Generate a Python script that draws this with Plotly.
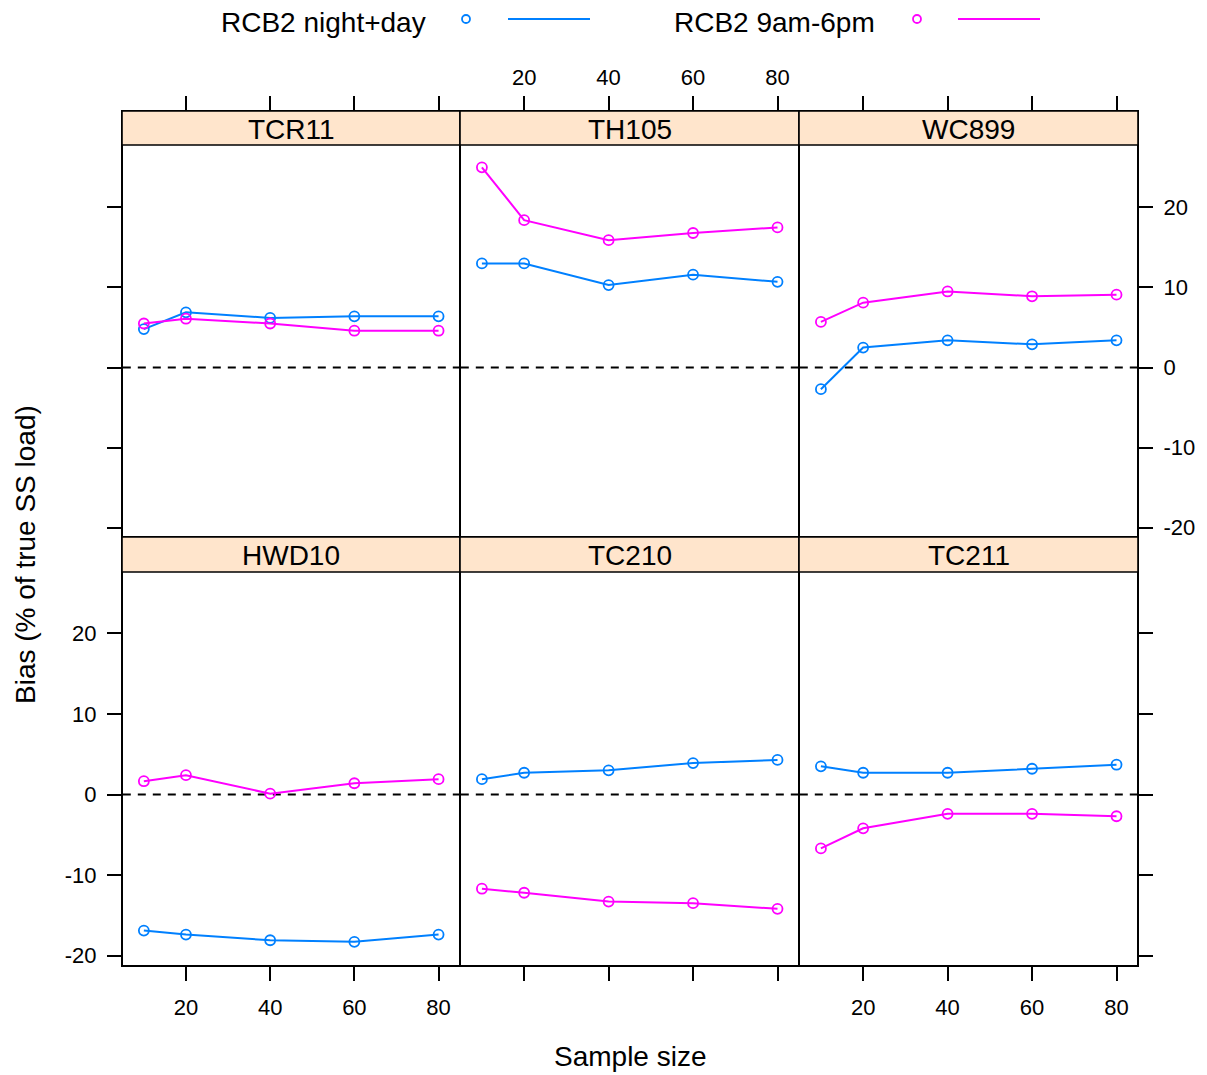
import plotly.graph_objects as go

# ---------------- data ----------------
sample_size = [10, 20, 40, 60, 80]
panel_names = ["TCR11", "TH105", "WC899", "HWD10", "TC210", "TC211"]
series_names = ["RCB2 night+day", "RCB2 9am-6pm"]

night_day_TCR11 = [4.8, 6.9, 6.2, 6.4, 6.4]
night_day_TH105 = [13.0, 13.0, 10.3, 11.6, 10.7]
night_day_WC899 = [-2.7, 2.5, 3.4, 2.9, 3.4]
night_day_HWD10 = [-16.9, -17.4, -18.1, -18.3, -17.4]
night_day_TC210 = [1.9, 2.7, 3.0, 3.9, 4.3]
night_day_TC211 = [3.5, 2.7, 2.7, 3.2, 3.7]

day_TCR11 = [5.5, 6.1, 5.5, 4.6, 4.6]
day_TH105 = [25.0, 18.4, 15.9, 16.8, 17.5]
day_WC899 = [5.7, 8.1, 9.5, 8.9, 9.1]
day_HWD10 = [1.65, 2.4, 0.1, 1.4, 1.9]
day_TC210 = [-11.7, -12.2, -13.3, -13.5, -14.2]
day_TC211 = [-6.7, -4.2, -2.4, -2.4, -2.7]

x_ticks = [20, 40, 60, 80]
y_ticks = [-20, -10, 0, 10, 20]

series_values = {
    "RCB2 night+day": [night_day_TCR11, night_day_TH105, night_day_WC899,
                       night_day_HWD10, night_day_TC210, night_day_TC211],
    "RCB2 9am-6pm": [day_TCR11, day_TH105, day_WC899,
                     day_HWD10, day_TC210, day_TC211],
}
colors = {"RCB2 night+day": "#0080ff", "RCB2 9am-6pm": "#ff00ff"}

# ---------------- geometry (pixels) ----------------
W, H = 1207, 1075
H_EFF = 1071  # compensates a small vertical compression seen in rendering
FONT = "Liberation Sans, Arial, Helvetica, sans-serif"
TICK_FS = 22
MAIN_FS = 28
STRIP_FILL = "#ffe5cc"
LW = 1.6

col_px = [(122, 460), (460, 799), (799, 1138)]
# (strip top, plot top, plot bottom)
row_px = [(111, 145, 537), (537, 572, 966)]
ylims = [(-21.05, 27.7), (-21.2, 27.55)]
xlim = (5.0, 84.9)


def fx(px):
    return px / W


def fy(py):
    return 1 - py / H_EFF


fig = go.Figure()
layout = {}
shapes = []
annotations = []

for i, name in enumerate(panel_names):
    r, c = divmod(i, 3)
    sfx = "" if i == 0 else str(i + 1)
    xa, ya = "xaxis" + sfx, "yaxis" + sfx
    xr, yr = "x" + sfx, "y" + sfx
    strip_top, plot_top, plot_bot = row_px[r]
    lo, hi = ylims[r]
    scale = (plot_bot - plot_top) / (hi - lo)
    hi_ext = hi + (plot_top - strip_top) / scale

    x0, x1 = col_px[c]
    xax = dict(domain=[fx(x0 + LW / 2), fx(x1 - LW / 2)], range=list(xlim), anchor=yr,
               showgrid=False, zeroline=False, showline=True, mirror=True,
               linecolor="black", linewidth=LW,
               tickvals=x_ticks, ticktext=[str(v) for v in x_ticks],
               ticks="outside", ticklen=14, tickwidth=1.5, tickcolor="black",
               tickfont=dict(family=FONT, size=TICK_FS, color="black"))
    if r == 0:
        xax.update(side="top", showticklabels=(c == 1), ticklabelstandoff=2)
    else:
        xax.update(side="bottom", showticklabels=(c != 1), ticklabelstandoff=8)
    layout[xa] = xax

    yax = dict(domain=[fy(plot_bot - LW / 2), fy(strip_top + LW / 2)],
               range=[lo, hi_ext], anchor=xr,
               showgrid=False, zeroline=False, showline=True, mirror=True,
               linecolor="black", linewidth=LW,
               tickvals=y_ticks, ticktext=[str(v) for v in y_ticks],
               tickfont=dict(family=FONT, size=TICK_FS, color="black"),
               ticklen=14, tickwidth=1.5, tickcolor="black")
    if c == 0:
        yax.update(side="left", ticks="outside", showticklabels=(r == 1),
                   ticklabelstandoff=6)
    elif c == 2:
        yax.update(side="right", ticks="outside", showticklabels=(r == 0),
                   ticklabelstandoff=6)
    else:
        yax.update(ticks="", showticklabels=False)
    layout[ya] = yax

    for s in series_names:
        fig.add_trace(go.Scatter(
            x=sample_size, y=series_values[s][i], mode="lines+markers",
            xaxis=xr, yaxis=yr, showlegend=False, cliponaxis=False,
            line=dict(color=colors[s], width=2),
            marker=dict(symbol="circle-open", size=10, color=colors[s],
                        line=dict(width=1.8, color=colors[s])),
            name=s))

    shapes.append(dict(type="line", xref=xr + " domain", x0=0, x1=1,
                       yref=yr, y0=0, y1=0,
                       line=dict(color="black", width=2, dash="8px,7px"),
                       layer="below"))
    shapes.append(dict(type="rect", xref="paper", yref="paper",
                       x0=fx(x0), x1=fx(x1), y0=fy(plot_top), y1=fy(strip_top),
                       fillcolor=STRIP_FILL, line=dict(color="black", width=LW),
                       layer="above"))
    annotations.append(dict(text=name, xref="paper", yref="paper",
                            x=fx((x0 + x1) / 2), y=fy((strip_top + plot_top) / 2 + 1),
                            xanchor="center", yanchor="middle", showarrow=False,
                            font=dict(family=FONT, size=MAIN_FS, color="black")))

# ---------------- key at top ----------------
key_items = [
    ("RCB2 night+day", 428, 466, (508, 590)),
    ("RCB2 9am-6pm", 877, 917, (958, 1040)),
]
for s, text_right, cx, (lx0, lx1) in key_items:
    annotations.append(dict(text=s, xref="paper", yref="paper",
                            x=fx(text_right), y=fy(22), xanchor="right",
                            yanchor="middle", showarrow=False,
                            font=dict(family=FONT, size=MAIN_FS, color="black")))
    shapes.append(dict(type="circle", xref="paper", yref="paper",
                       x0=fx(cx - 4), x1=fx(cx + 4), y0=fy(19 + 4), y1=fy(19 - 4),
                       line=dict(color=colors[s], width=1.8)))
    shapes.append(dict(type="line", xref="paper", yref="paper",
                       x0=fx(lx0), x1=fx(lx1), y0=fy(19), y1=fy(19),
                       line=dict(color=colors[s], width=2)))

annotations.append(dict(text="Sample size", xref="paper", yref="paper",
                        x=fx(630), y=fy(1056), xanchor="center", yanchor="middle",
                        showarrow=False,
                        font=dict(family=FONT, size=MAIN_FS, color="black")))
annotations.append(dict(text="Bias (% of true SS load)", xref="paper", yref="paper",
                        x=fx(25), y=fy(555), xanchor="center", yanchor="middle",
                        textangle=-90, showarrow=False,
                        font=dict(family=FONT, size=MAIN_FS, color="black")))

fig.update_layout(
    width=W, height=H,
    margin=dict(l=0, r=0, t=0, b=0),
    paper_bgcolor="white", plot_bgcolor="white",
    showlegend=False,
    shapes=shapes, annotations=annotations,
    **layout,
)

fig.write_html("out.html", include_plotlyjs=True, full_html=True,
               config={"displayModeBar": False})
